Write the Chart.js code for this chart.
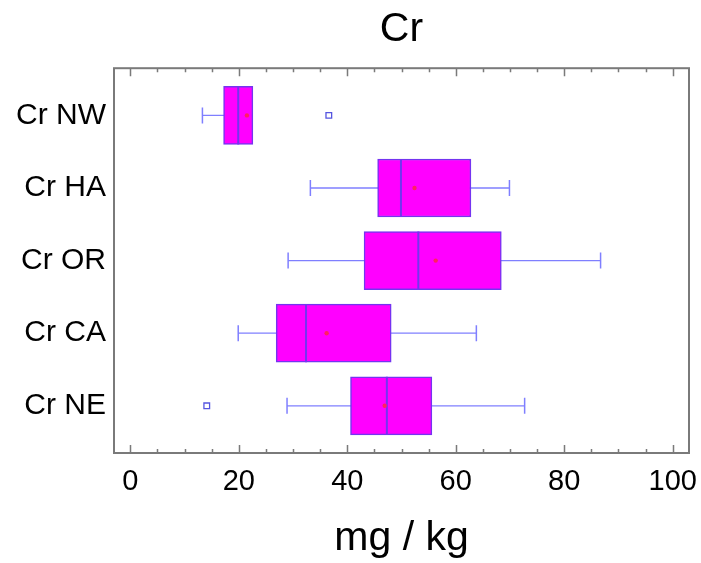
<!DOCTYPE html>
<html>
<head>
<meta charset="utf-8">
<script src="https://cdn.jsdelivr.net/npm/chart.js@4"></script>
<style>
  html, body { margin: 0; padding: 0; background: #fff; }
  #wrap { width: 701px; height: 563px; }
</style>
</head>
<body>
<div id="wrap"><canvas id="graficoCr"></canvas></div>
<script>
// valores (mg / kg)
var categorias = ['Cr NW', 'Cr HA', 'Cr OR', 'Cr CA', 'Cr NE'];
var bigodeMin = [13.3, 33.2, 29.1, 19.9, 28.9];
var quartil1 = [17.2, 45.6, 43.1, 26.9, 40.6];
var medianas = [19.9, 49.9, 53.1, 32.4, 47.3];
var quartil3 = [22.6, 62.8, 68.4, 48.1, 55.6];
var bigodeMax = [22.6, 69.9, 86.7, 63.8, 72.7];
var medias = [21.5, 52.4, 56.3, 36.2, 46.9];
var outliers = [[36.6], [], [], [], [14.1]];

var corBorda = '#7434f0';
var corBigode = '#7f7fff';
var fonte = "'Liberation Sans', Arial, sans-serif";

var datasets = [];

// linhas dos bigodes (ficam por baixo da caixa)
categorias.forEach(function (c, i) {
    datasets.push({
        type: 'line',
        data: [{ x: bigodeMin[i], y: i }, { x: bigodeMax[i], y: i }],
        borderColor: corBigode,
        borderWidth: 1.3,
        pointRadius: 0,
        order: 4
    });
});

// caixas (Q1 - Q3)
datasets.push({
    type: 'bar',
    indexAxis: 'y',
    data: categorias.map(function (c, i) { return { x: [quartil1[i], quartil3[i]], y: i }; }),
    backgroundColor: '#ff00ff',
    borderColor: corBorda,
    borderWidth: 1.5,
    borderSkipped: false,
    barThickness: 58,
    order: 3
});

// tracos no fim dos bigodes
var pontasBigode = [];
categorias.forEach(function (c, i) {
    pontasBigode.push({ x: bigodeMin[i], y: i });
    if (bigodeMax[i] > quartil3[i]) pontasBigode.push({ x: bigodeMax[i], y: i });
});
datasets.push({
    type: 'scatter',
    data: pontasBigode,
    pointStyle: 'line',
    rotation: 90,
    pointRadius: 8,
    borderColor: corBigode,
    borderWidth: 1.5,
    order: 2
});

// medianas
datasets.push({
    type: 'scatter',
    data: categorias.map(function (c, i) { return { x: medianas[i], y: i }; }),
    pointStyle: 'line',
    rotation: 90,
    pointRadius: 29,
    borderColor: corBorda,
    borderWidth: 2,
    order: 1
});

// medias
datasets.push({
    type: 'scatter',
    data: categorias.map(function (c, i) { return { x: medias[i], y: i }; }),
    pointStyle: 'circle',
    pointRadius: 2.2,
    backgroundColor: '#ff2060',
    borderColor: '#ff2060',
    borderWidth: 0,
    order: 0
});

// outliers
var pontosOutlier = [];
outliers.forEach(function (lista, i) {
    lista.forEach(function (v) { pontosOutlier.push({ x: v, y: i }); });
});
datasets.push({
    type: 'scatter',
    data: pontosOutlier,
    pointStyle: 'rect',
    pointRadius: 4,
    backgroundColor: 'rgba(0,0,0,0)',
    borderColor: '#5555e0',
    borderWidth: 1.3,
    order: 0
});

// moldura e marcas de escala para dentro
var moldura = {
    id: 'moldura',
    afterDraw: function (chart) {
        var ctx = chart.ctx;
        var a = chart.chartArea;
        var x = chart.scales.x;
        ctx.save();
        ctx.strokeStyle = '#7a7a7a';
        ctx.lineWidth = 1.5;
        ctx.beginPath();
        x.ticks.forEach(function (t) {
            var px = Math.round(x.getPixelForValue(t.value)) + 0.5;
            var len = t.value % 20 === 0 ? 8 : 4;
            ctx.moveTo(px, a.bottom);
            ctx.lineTo(px, a.bottom - len);
            ctx.moveTo(px, a.top);
            ctx.lineTo(px, a.top + len);
        });
        ctx.stroke();
        ctx.lineWidth = 2;
        ctx.strokeRect(a.left, a.top, a.right - a.left, a.bottom - a.top);
        ctx.restore();
    }
};

var ctx = document.getElementById('graficoCr');
var grafico = new Chart(ctx, {
    type: 'bar',
    data: { datasets: datasets },
    plugins: [moldura],
    options: {
        responsive: true,
        maintainAspectRatio: false,
        animation: false,
        layout: { autoPadding: false, padding: { left: 0, right: 12, top: 0, bottom: 0 } },
        plugins: {
            legend: { display: false },
            tooltip: { enabled: false },
            title: {
                display: true,
                fullSize: false,
                text: 'Cr',
                color: '#000',
                font: { family: fonte, size: 41, weight: 'normal' },
                padding: { top: 5, bottom: 14 }
            }
        },
        scales: {
            x: {
                type: 'linear',
                position: 'bottom',
                offset: false,
                min: -3,
                max: 103,
                grid: { display: false, drawTicks: false },
                border: { display: false },
                ticks: {
                    stepSize: 5,
                    includeBounds: false,
                    autoSkip: false,
                    maxRotation: 0,
                    padding: 12,
                    color: '#000',
                    font: { family: fonte, size: 29 },
                    callback: function (v) { return v % 20 === 0 ? v : ''; }
                },
                title: {
                    display: true,
                    text: 'mg / kg',
                    color: '#000',
                    font: { family: fonte, size: 41 },
                    padding: { top: 0, bottom: 0 }
                },
                afterFit: function (s) {
                    s.height = 110;
                    s.paddingLeft = 0;
                    s.paddingRight = 0;
                }
            },
            y: {
                type: 'linear',
                reverse: true,
                offset: false,
                min: -0.65,
                max: 4.65,
                grid: { display: false, drawTicks: false },
                border: { display: false },
                ticks: {
                    stepSize: 1,
                    includeBounds: false,
                    padding: 8,
                    color: '#000',
                    font: { family: fonte, size: 30 },
                    callback: function (v) { return categorias[v] !== undefined ? categorias[v] : ''; }
                },
                afterFit: function (s) { s.width = 114; }
            }
        }
    }
});
</script>
</body>
</html>
